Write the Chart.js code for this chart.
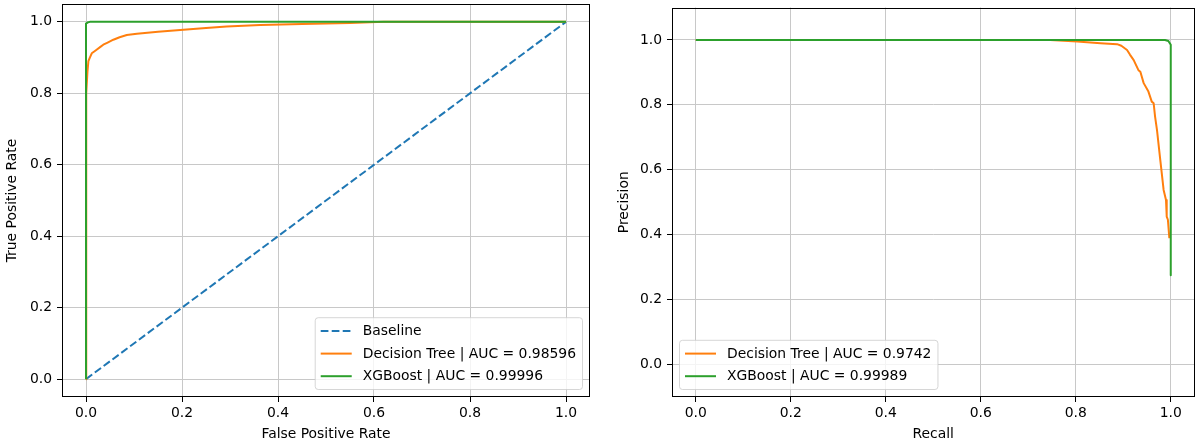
<!DOCTYPE html>
<html><head><meta charset="utf-8">
<script src="https://cdn.jsdelivr.net/npm/chart.js@4.4.1/dist/chart.umd.min.js"></script>
<style>
html,body{margin:0;padding:0;background:#fff;}
#wrap{position:relative;width:1197px;height:443px;overflow:hidden;background:#fff;}
.c{position:absolute;top:0;}
</style></head><body>
<div id="wrap">
<div class="c" style="left:0;width:600px;height:443px"><canvas id="roc" width="600" height="443"></canvas></div>
<div class="c" style="left:600px;width:597px;height:443px"><canvas id="pr" width="597" height="443"></canvas></div>
</div>
<script>
// ---- data ----
const tickValues = [0, 0.2, 0.4, 0.6, 0.8, 1.0];
const tickLabels = ['0.0', '0.2', '0.4', '0.6', '0.8', '1.0'];

const baselineFpr = [0, 1];
const baselineTpr = [0, 1];

const rocTreeFpr = [0, 0.0, 0.001, 0.003, 0.005, 0.008, 0.012, 0.02, 0.03, 0.036, 0.045, 0.057, 0.07, 0.085, 0.106, 0.15, 0.203, 0.25, 0.293, 0.363, 0.45, 0.55, 0.62, 1.0];
const rocTreeTpr = [0, 0.60, 0.80, 0.86, 0.89, 0.90, 0.912, 0.92, 0.93, 0.936, 0.942, 0.95, 0.957, 0.963, 0.967, 0.972, 0.978, 0.983, 0.987, 0.991, 0.994, 0.997, 1.0, 1.0];

const rocXgbFpr = [0, 0, 0.003, 0.008, 1.0];
const rocXgbTpr = [0, 0.995, 0.998, 1.0, 1.0];

const prTreeRecall    = [0, 0.70, 0.746, 0.803, 0.852, 0.887, 0.896, 0.908, 0.914, 0.922, 0.932, 0.936, 0.943, 0.953, 0.960, 0.964, 0.967, 0.971, 0.978, 0.985, 0.990, 0.991, 0.992, 0.994, 0.997];
const prTreePrecision = [1.0, 1.0, 1.0, 0.995, 0.990, 0.987, 0.982, 0.969, 0.955, 0.938, 0.907, 0.902, 0.867, 0.841, 0.810, 0.805, 0.764, 0.723, 0.630, 0.538, 0.507, 0.497, 0.456, 0.446, 0.389];

const prXgbRecall    = [0, 0.988, 0.995, 1.0, 1.0];
const prXgbPrecision = [1.0, 1.0, 0.997, 0.985, 0.275];

const rocLabels = ['Baseline', 'Decision Tree | AUC = 0.98596', 'XGBoost | AUC = 0.99996'];
const prLabels = ['Decision Tree | AUC = 0.9742', 'XGBoost | AUC = 0.99989'];

// ---- helpers ----
const FONT = { family: 'DejaVu Sans', size: 13.9 };
const C_BLUE = '#1f77b4', C_ORANGE = '#ff7f0e', C_GREEN = '#2ca02c';
const zip = (xs, ys) => xs.map((x, i) => ({ x, y: ys[i] }));

function axis(title, min, max, isX, fixedSize, titlePad) {
  return {
    type: 'linear', min, max,
    afterBuildTicks: s => { s.ticks = tickValues.map(v => ({ value: v })); },
    afterFit: s => {
      if (isX) s.height = fixedSize; else s.width = fixedSize;
      s.paddingTop = 0; s.paddingBottom = 0; s.paddingLeft = 0; s.paddingRight = 0;
    },
    ticks: { callback: (v, i) => tickLabels[i], color: '#000', font: FONT, padding: isX ? 3 : 5, maxRotation: 0, autoSkip: false },
    grid: { color: '#c8c8c8', lineWidth: 1, drawTicks: true, tickLength: 5, tickColor: '#000', tickWidth: 1 },
    border: { display: false },
    title: { display: true, text: title, color: '#000', font: FONT, padding: isX ? { top: 0, bottom: 0 } : { top: titlePad, bottom: 0 } }
  };
}

function ds(label, xs, ys, color, order, dash) {
  return {
    label, data: zip(xs, ys), borderColor: color, backgroundColor: color,
    borderWidth: 2, pointRadius: 0, tension: 0, fill: false, order,
    borderDash: dash || [], borderJoinStyle: 'round', borderCapStyle: 'butt'
  };
}

const framePlugin = {
  id: 'frame',
  afterDraw(chart) {
    const { ctx, chartArea: a } = chart;
    ctx.save();
    ctx.strokeStyle = '#000';
    ctx.lineWidth = 1;
    const l = Math.round(a.left) + 0.5, r = Math.round(a.right) - 0.5;
    const t = Math.round(a.top) + 0.5, b = Math.round(a.bottom) - 0.5;
    ctx.strokeRect(l, t, r - l, b - t);
    ctx.restore();
  }
};

const legendPlugin = {
  id: 'mplLegend',
  afterDatasetsDraw(chart, args, opts) {
    const { ctx, chartArea: a } = chart;
    const items = chart.data.datasets;
    ctx.save();
    ctx.font = FONT.size + 'px "' + FONT.family + '"';
    let tw = 0;
    items.forEach(d => { tw = Math.max(tw, ctx.measureText(d.label).width); });
    const pad = 5.5, handle = 31, textOff = 47.5, rowH = 15.6, gap = 7, edge = 7.5;
    const w = textOff + tw + 6.5;
    const h = 2 * pad + items.length * rowH + (items.length - 1) * gap;
    const left = opts.corner === 'lower right' ? a.right - edge - w : a.left + edge;
    const top = a.bottom - edge - h;
    ctx.beginPath();
    if (ctx.roundRect) ctx.roundRect(left, top, w, h, 3); else ctx.rect(left, top, w, h);
    ctx.fillStyle = 'rgba(255,255,255,0.8)';
    ctx.fill();
    ctx.strokeStyle = 'rgba(204,204,204,0.8)';
    ctx.lineWidth = 1;
    ctx.stroke();
    items.forEach((d, i) => {
      const cy = top + pad + rowH / 2 + i * (rowH + gap);
      ctx.beginPath();
      ctx.setLineDash(d.borderDash || []);
      ctx.strokeStyle = d.borderColor;
      ctx.lineWidth = 2;
      ctx.moveTo(left + pad, cy);
      ctx.lineTo(left + pad + handle, cy);
      ctx.stroke();
      ctx.setLineDash([]);
      ctx.fillStyle = '#000';
      ctx.textBaseline = 'middle';
      ctx.textAlign = 'left';
      ctx.fillText(d.label, left + textOff, cy + 0.5);
    });
    ctx.restore();
  }
};

const common = (legendCorner, padding) => ({
  responsive: false, animation: false,
  layout: { padding },
  plugins: { legend: { display: false }, tooltip: { enabled: false }, mplLegend: { corner: legendCorner } }
});

new Chart(document.getElementById('roc'), {
  type: 'line',
  data: {
    datasets: [
      ds(rocLabels[0], baselineFpr, baselineTpr, C_BLUE, 3, [7.7, 3.3]),
      ds(rocLabels[1], rocTreeFpr, rocTreeTpr, C_ORANGE, 2),
      ds(rocLabels[2], rocXgbFpr, rocXgbTpr, C_GREEN, 1)
    ]
  },
  options: Object.assign(common('lower right', { left: 0, right: 10, top: 4, bottom: 0 }), {
    scales: {
      x: axis('False Positive Rate', -0.05, 1.05, true, 46),
      y: axis('True Positive Rate', -0.05, 1.05, false, 62, 4)
    }
  }),
  plugins: [legendPlugin, framePlugin]
});

new Chart(document.getElementById('pr'), {
  type: 'line',
  data: {
    datasets: [
      ds(prLabels[0], prTreeRecall, prTreePrecision, C_ORANGE, 2),
      ds(prLabels[1], prXgbRecall, prXgbPrecision, C_GREEN, 1)
    ]
  },
  options: Object.assign(common('lower left', { left: 0, right: 2.5, top: 7.5, bottom: 0 }), {
    scales: {
      x: axis('Recall', -0.05, 1.05, true, 46),
      y: axis('Precision', -0.1, 1.1, false, 72, 16.5)
    }
  }),
  plugins: [legendPlugin, framePlugin]
});
</script>
</body></html>
